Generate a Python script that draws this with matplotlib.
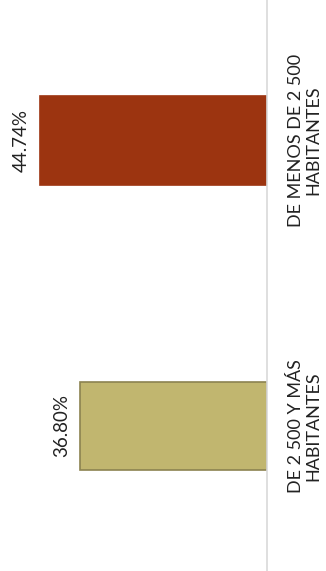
import matplotlib
matplotlib.use("Agg")
import matplotlib.pyplot as plt
import matplotlib.transforms as mtransforms

categories = ["DE MENOS DE 2 500\nHABITANTES", "DE 2 500 Y MÁS\nHABITANTES"]
values = [44.74, 36.80]
labels = ["44.74%", "36.80%"]
colors = ["#9C3410", "#C1B66F"]
edges = ["#9C3410", "#8C8350"]

plt.rcParams['font.family'] = ['Lato', 'DejaVu Sans']

fig = plt.figure(figsize=(3.26, 5.71), dpi=100)
ax = fig.add_axes([0, 0, 267 / 326, 1])

pos = list(range(len(categories)))
ax.barh(pos, values, height=0.31, color=colors, edgecolor=edges, linewidth=1.2, zorder=2)

ax.set_xlim(52.56, 0)
ax.set_ylim(1.508, -0.492)
for s in ["top", "bottom", "left"]:
    ax.spines[s].set_visible(False)
ax.spines["right"].set_color("#d9d9d9")
ax.spines["right"].set_linewidth(1.2)
ax.set_xticks([])
ax.set_yticks([])

for p, v, lab in zip(pos, values, labels):
    ax.annotate(lab, xy=(v, p), xytext=(-13.5, 0), textcoords="offset points",
                rotation=90, ha="center", va="center", fontsize=13.5, color="#222222")

trans = mtransforms.blended_transform_factory(fig.transFigure, ax.transData)
for p, c in zip(pos, categories):
    ax.text(304.5 / 326, p, c, transform=trans, rotation=90, ha="center", va="center",
            multialignment="center", fontsize=13, color="#222222", clip_on=False,
            linespacing=1.12)

fig.savefig("out.png", dpi=100)
